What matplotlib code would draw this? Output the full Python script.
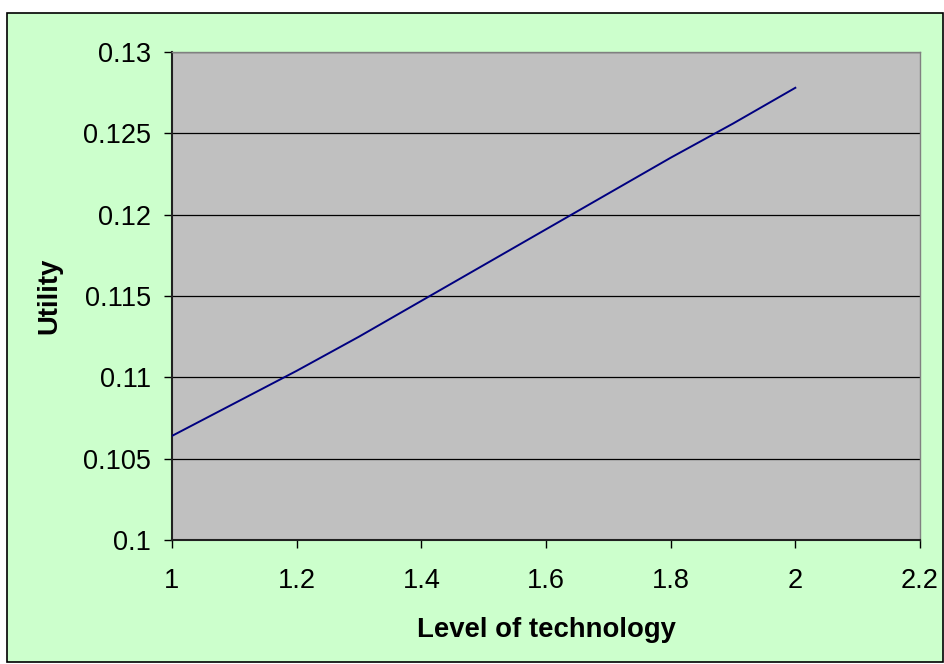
import matplotlib
matplotlib.use("Agg")
import matplotlib.pyplot as plt
from matplotlib.patches import Rectangle

# data
tech_level = [1.0, 1.1, 1.2, 1.3, 1.4, 1.5, 1.6, 1.7, 1.8, 1.9, 2.0]
utility = [0.1064, 0.1084, 0.1104, 0.1125, 0.1147, 0.1169,
           0.1191, 0.1213, 0.1235, 0.1256, 0.1278]
x_ticks = [1, 1.2, 1.4, 1.6, 1.8, 2, 2.2]
x_tick_labels = ["1", "1.2", "1.4", "1.6", "1.8", "2", "2.2"]
y_ticks = [0.1, 0.105, 0.11, 0.115, 0.12, 0.125, 0.13]
y_tick_labels = ["0.1", "0.105", "0.11", "0.115", "0.12", "0.125", "0.13"]

plt.rcParams['font.family'] = ['Liberation Sans', 'DejaVu Sans']

W, H = 945, 664
fig = plt.figure(figsize=(W / 100, H / 100), dpi=100)
fig.patch.set_facecolor("white")

# green chart area with black border (behind the axes)
fig.patches.append(Rectangle((7 / W, 1 - 662 / H), (943 - 7) / W, (662 - 13) / H,
                             transform=fig.transFigure, facecolor="#CCFFCC",
                             edgecolor="black", linewidth=1.2, zorder=-5))

ax = fig.add_axes([172 / W, 1 - 540 / H, (920 - 172) / W, (540 - 52) / H])
ax.set_facecolor("#C0C0C0")

ax.plot(tech_level, utility, color="#000080", linewidth=1.4, zorder=3)

ax.set_xlim(1, 2.2)
ax.set_ylim(0.1, 0.13)
ax.set_xticks(x_ticks)
ax.set_xticklabels(x_tick_labels)
ax.set_yticks(y_ticks)
ax.set_yticklabels(y_tick_labels)
ax.tick_params(axis="both", direction="out", length=6, width=1,
               labelsize=19.5, colors="black")
ax.tick_params(axis="x", pad=14)
ax.tick_params(axis="y", pad=9)

ax.grid(axis="y", color="black", linewidth=0.9)
ax.set_axisbelow(True)

for side in ["left", "bottom"]:
    ax.spines[side].set_color("#202020")
    ax.spines[side].set_linewidth(1.5)
for side in ["top", "right"]:
    ax.spines[side].set_color("#808080")
    ax.spines[side].set_linewidth(1)

ax.set_xlabel("Level of technology", fontsize=19.8, fontweight="bold")
ax.set_ylabel("Utility", fontsize=19.8, fontweight="bold")
ax.xaxis.set_label_coords(0.5, -0.158)
ax.yaxis.set_label_coords(-0.147, 0.5)

fig.savefig("out.png", dpi=100, facecolor=fig.get_facecolor())
